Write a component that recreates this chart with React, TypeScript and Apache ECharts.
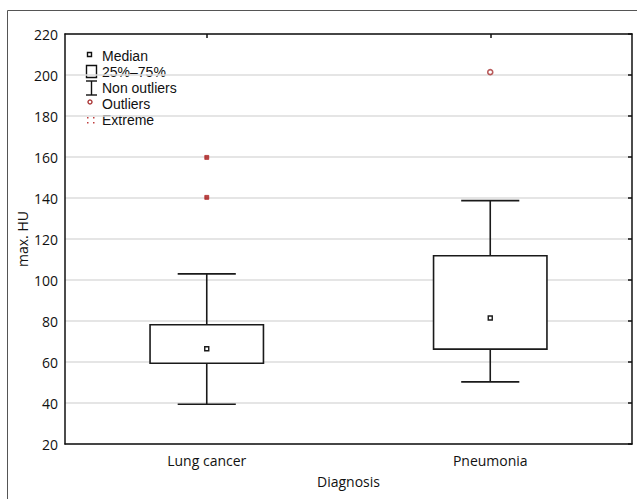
import React, { useEffect, useRef } from "react";
import * as echarts from "echarts";

const categories = ["Lung cancer", "Pneumonia"];
// [min (non-outlier), Q1, median, Q3, max (non-outlier)]
const boxValues = [
  [39.4, 59.4, 66.5, 78.2, 103],
  [50.3, 66.3, 81.5, 111.8, 138.7],
];
const outliers = [[1, 201.4]];
const extremes = [
  [0, 159.8],
  [0, 140.3],
];
const yTicks = { min: 20, max: 220, interval: 20 };
const legendLabels = ["Median", "25%–75%", "Non outliers", "Outliers", "Extreme"];

const FONT = "'Open Sans', 'Noto Sans', sans-serif";
const LEGEND_FONT = "'Liberation Sans', Arial, sans-serif";

export default function App() {
  const ref = useRef<HTMLDivElement>(null);
  useEffect(() => {
    const chart = echarts.init(ref.current!, null, { renderer: "svg" });
    const lx = 102;
    const ly = [56, 72, 88, 104, 120];
    const legendGraphics: any[] = [
      {
        type: "rect",
        shape: { x: 87.5, y: 52.5, width: 4, height: 4 },
        style: { fill: "#fff", stroke: "#111", lineWidth: 1.4 },
      },
      {
        type: "rect",
        shape: { x: 86.5, y: 65.5, width: 10, height: 12 },
        style: { fill: "#fff", stroke: "#111", lineWidth: 1.4 },
      },
      { type: "line", shape: { x1: 86, y1: 81, x2: 97, y2: 81 }, style: { stroke: "#111", lineWidth: 1.4 } },
      { type: "line", shape: { x1: 91.5, y1: 81, x2: 91.5, y2: 95 }, style: { stroke: "#111", lineWidth: 1.4 } },
      { type: "line", shape: { x1: 86, y1: 95, x2: 97, y2: 95 }, style: { stroke: "#111", lineWidth: 1.4 } },
      {
        type: "circle",
        shape: { cx: 90, cy: 102, r: 2 },
        style: { fill: "#fff", stroke: "#a83232", lineWidth: 1.4 },
      },
      { type: "rect", shape: { x: 87, y: 117, width: 1.5, height: 1.5 }, style: { fill: "#c04040" } },
      { type: "rect", shape: { x: 87, y: 122, width: 1.5, height: 1.5 }, style: { fill: "#c04040" } },
      { type: "rect", shape: { x: 93, y: 117, width: 1.5, height: 1.5 }, style: { fill: "#c04040" } },
      { type: "rect", shape: { x: 93, y: 122, width: 1.5, height: 1.5 }, style: { fill: "#c04040" } },
      ...legendLabels.map((t, i) => ({
        type: "text",
        x: lx,
        y: ly[i],
        style: {
          text: t,
          fill: "#111",
          fontSize: 14,
          fontFamily: LEGEND_FONT,
          lineHeight: 14,
          verticalAlign: "middle",
          align: "left",
        },
      })),
      {
        type: "rect",
        shape: { x: 7.5, y: 10.5, width: 640, height: 500 },
        style: { fill: "none", stroke: "#555", lineWidth: 1 },
        silent: true,
      },
    ];

    const option: any = {
      animation: false,
      backgroundColor: "#fff",
      textStyle: { fontFamily: FONT },
      grid: { left: 65, right: 5, top: 34, bottom: 55 },
      xAxis: [
        {
          type: "category",
          data: categories,
          position: "bottom",
          axisLine: { lineStyle: { color: "#111", width: 1.5 } },
          axisTick: { inside: true, alignWithLabel: true, length: 4, lineStyle: { color: "#111", width: 1.5 } },
          axisLabel: { color: "#111", fontSize: 14, fontFamily: FONT, margin: 9 },
          name: "Diagnosis",
          nameLocation: "middle",
          nameGap: 30,
          nameMoveOverlap: false,
          nameTextStyle: { color: "#111", fontSize: 14, fontFamily: FONT },
        },
        {
          type: "category",
          data: categories,
          position: "top",
          axisLine: { show: true, lineStyle: { color: "#111", width: 1.5 } },
          axisTick: { show: true, inside: true, alignWithLabel: true, length: 4, lineStyle: { color: "#111", width: 1.5 } },
          axisLabel: { show: false },
        },
      ],
      yAxis: [
        {
          type: "value",
          min: yTicks.min,
          max: yTicks.max,
          interval: yTicks.interval,
          position: "left",
          axisLine: { show: true, lineStyle: { color: "#111", width: 1.5 } },
          axisTick: { show: false },
          axisLabel: { color: "#111", fontSize: 14, fontFamily: FONT, margin: 7 },
          splitLine: { show: true, lineStyle: { color: "#dcdcdc", width: 1.5 } },
          name: "max. HU",
          nameLocation: "middle",
          nameGap: 36,
          nameMoveOverlap: false,
          nameTextStyle: { color: "#111", fontSize: 14, fontFamily: FONT },
        },
        {
          type: "value",
          min: yTicks.min,
          max: yTicks.max,
          interval: yTicks.interval,
          position: "right",
          axisLine: { show: true, lineStyle: { color: "#111", width: 1.5 } },
          axisTick: { show: true, inside: true, length: 4, lineStyle: { color: "#111", width: 1.5 } },
          axisLabel: { show: false },
          splitLine: { show: false },
        },
      ],
      series: [
        {
          type: "custom",
          xAxisIndex: 0,
          yAxisIndex: 0,
          data: boxValues.map((v, i) => [i, ...v]),
          renderItem: (params: any, api: any) => {
            const ci = api.value(0);
            const band = api.size([1, 0])[0];
            const pMin = api.coord([ci, api.value(1)]);
            const pQ1 = api.coord([ci, api.value(2)]);
            const pMed = api.coord([ci, api.value(3)]);
            const pQ3 = api.coord([ci, api.value(4)]);
            const pMax = api.coord([ci, api.value(5)]);
            const x = pMin[0];
            const bw = band * 0.4;
            const cw = band * 0.205;
            const st = { stroke: "#1a1a1a", lineWidth: 1.6, fill: "none" };
            return {
              type: "group",
              children: [
                { type: "line", shape: { x1: x, y1: pMax[1], x2: x, y2: pQ3[1] }, style: st },
                { type: "line", shape: { x1: x, y1: pQ1[1], x2: x, y2: pMin[1] }, style: st },
                { type: "line", shape: { x1: x - cw / 2, y1: pMax[1], x2: x + cw / 2, y2: pMax[1] }, style: st },
                { type: "line", shape: { x1: x - cw / 2, y1: pMin[1], x2: x + cw / 2, y2: pMin[1] }, style: st },
                {
                  type: "rect",
                  shape: { x: x - bw / 2, y: pQ3[1], width: bw, height: pQ1[1] - pQ3[1] },
                  style: { stroke: "#1a1a1a", lineWidth: 1.6, fill: "#fff" },
                },
                {
                  type: "rect",
                  shape: { x: x - 2, y: pMed[1] - 2, width: 4, height: 4 },
                  style: { stroke: "#1a1a1a", lineWidth: 1.4, fill: "#fff" },
                },
              ],
            };
          },
          z: 3,
        },
        {
          type: "scatter",
          data: outliers,
          symbol: "circle",
          symbolSize: 5,
          itemStyle: { color: "#fff", borderColor: "#a83232", borderWidth: 1.6 },
          z: 4,
        },
        {
          type: "scatter",
          data: extremes,
          symbol: "rect",
          symbolSize: 4,
          itemStyle: { color: "#a81818", borderColor: "#a81818", borderWidth: 0.8 },
          z: 4,
        },
      ],
      graphic: legendGraphics,
    };
    chart.setOption(option);
    return () => chart.dispose();
  }, []);
  return (
    <div
      ref={ref}
      style={{ position: "fixed", left: 0, top: 0, width: 637, height: 499 }}
    />
  );
}
